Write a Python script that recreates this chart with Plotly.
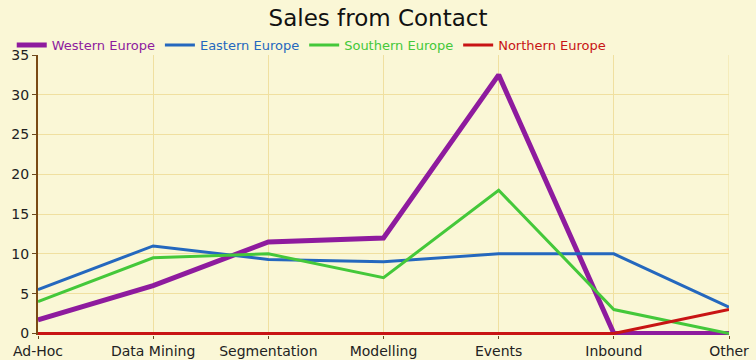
import plotly.graph_objects as go

categories = ["Ad-Hoc", "Data Mining", "Segmentation", "Modelling", "Events", "Inbound", "Other"]
western = [1.7, 6, 11.5, 12, 32.5, 0, 0]
eastern = [5.5, 11, 9.3, 9, 10, 10, 3.3]
southern = [4, 9.5, 10, 7, 18, 3, 0]
northern = [0, 0, 0, 0, 0, 0, 3]
series_names = ["Western Europe", "Eastern Europe", "Southern Europe", "Northern Europe"]
y_ticks = [0, 5, 10, 15, 20, 25, 30, 35]

colors = ["#8E1B9E", "#2468BE", "#44C83A", "#C81414"]
widths = [5, 3, 3, 3]
values = [western, eastern, southern, northern]

fig = go.Figure()
for name, vals, c, w in zip(series_names, values, colors, widths):
    fig.add_trace(go.Scatter(
        x=categories, y=vals, mode="lines",
        name=f"<span style='color:{c}'>{name}</span>",
        line=dict(color=c, width=w),
        hoverinfo="skip",
    ))

fig.update_layout(
    width=756, height=360,
    margin=dict(l=31, r=27, t=55, b=25.4),
    paper_bgcolor="#FAF7D6",
    plot_bgcolor="#FAF7D6",
    font=dict(family="DejaVu Sans", size=13, color="#222222"),
    title=dict(text="Sales from Contact", x=0.5, xanchor="center", y=0.95, yanchor="middle",
               font=dict(family="DejaVu Sans", size=23, color="#111111")),
    legend=dict(orientation="h", x=-0.038, xanchor="left", y=1.0 + 10/280, yanchor="middle",
                bgcolor="rgba(0,0,0,0)", font=dict(size=13), itemwidth=30, tracegroupgap=0),
    showlegend=True,
)
fig.update_xaxes(
    type="category", range=[0, 6], automargin=False,
    showgrid=True, gridcolor="#F0E0A0", gridwidth=1,
    ticks="outside", ticklen=3, tickcolor="#6B4A20",
    showline=False, zeroline=False,
    tickfont=dict(size=14, color="#222222"),
)
fig.update_yaxes(
    range=[-0.2, 35], tickvals=y_ticks, automargin=False,
    showgrid=True, gridcolor="#F0E0A0", gridwidth=1,
    ticks="outside", ticklen=4, tickcolor="#6B4A20",
    showline=True, linecolor="#7A4A14", linewidth=2,
    zeroline=False,
    tickfont=dict(size=14, color="#222222"),
)
fig.add_shape(type="line", xref="x", yref="paper", x0=6, x1=6, y0=0, y1=1,
              line=dict(color="#F0E0A0", width=1), layer="below")
fig.write_html("out.html")
